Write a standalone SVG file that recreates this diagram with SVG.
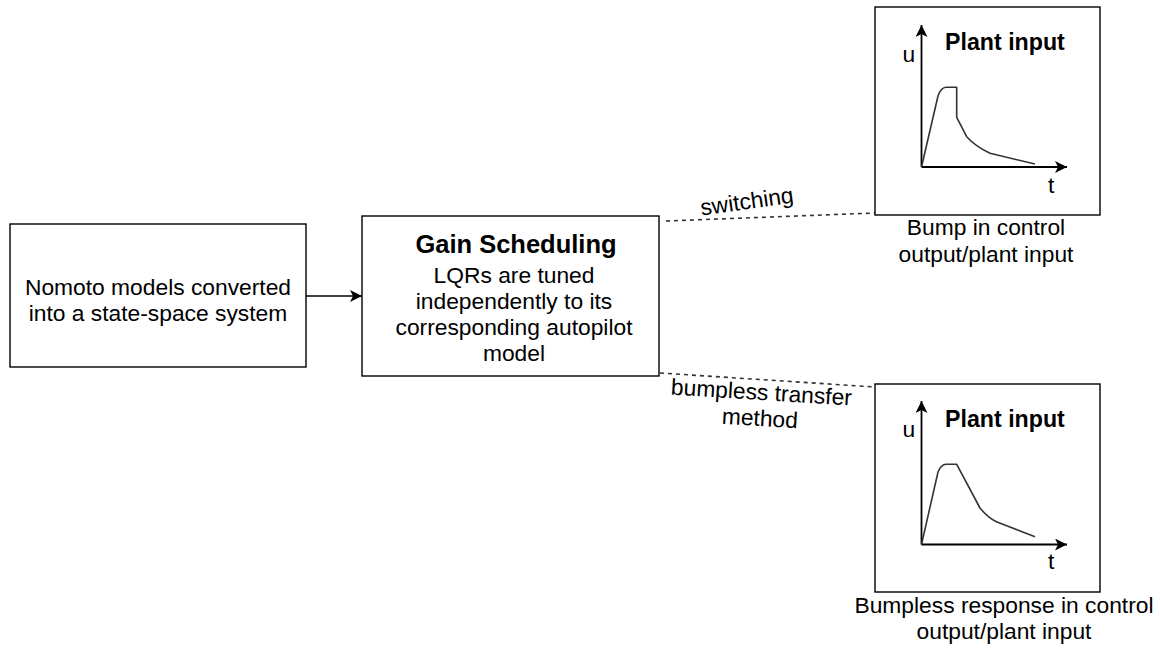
<svg xmlns="http://www.w3.org/2000/svg" width="1160" height="648" viewBox="0 0 1160 648">
<style>
text{font-family:"Liberation Sans",Arial,sans-serif;fill:#000;font-size:22.8px}
.b{font-weight:bold}
.t{font-size:25.5px}
.p{font-size:23.2px}
.box{fill:#fff;stroke:#000;stroke-width:1.4}
.ax{fill:none;stroke:#000;stroke-width:1.8}
.cv{fill:none;stroke:#333;stroke-width:1.6;stroke-linejoin:round}
.dash{fill:none;stroke:#333;stroke-width:1.6;stroke-dasharray:4 4}
.ln{fill:none;stroke:#000;stroke-width:1.4}
</style>
<defs>
<marker id="arr" viewBox="0 0 12 12" refX="12" refY="6" markerWidth="12" markerHeight="12" markerUnits="userSpaceOnUse" orient="auto">
<path d="M0,0 L12,6 L0,12 L3,6 Z" fill="#000"/>
</marker>
</defs>
<rect width="1160" height="648" fill="#fff"/>
<g id="connectors">
<line class="ln" x1="306" y1="296" x2="362" y2="296" marker-end="url(#arr)"/>
<line class="dash" x1="666" y1="221" x2="875" y2="213"/>
<line class="dash" x1="660" y1="373" x2="875" y2="387"/>
<text text-anchor="middle" transform="translate(748,209) rotate(-8)">switching</text>
<text text-anchor="middle" transform="translate(761,400) rotate(3.5)"><tspan x="0" y="0">bumpless transfer</tspan><tspan x="0" y="26">method</tspan></text>
</g>
<g id="nomoto">
<rect class="box" x="10" y="224" width="296" height="143"/>
<text text-anchor="middle" x="158" y="295">Nomoto models converted</text>
<text text-anchor="middle" x="158" y="321">into a state-space system</text>
</g>
<g id="gain">
<rect class="box" x="362" y="216" width="297" height="160"/>
<text class="b t" text-anchor="middle" x="516" y="253">Gain Scheduling</text>
<text text-anchor="middle" x="514" y="283">LQRs are tuned</text>
<text text-anchor="middle" x="514" y="309">independently to its</text>
<text text-anchor="middle" x="514" y="335">corresponding autopilot</text>
<text text-anchor="middle" x="514" y="361">model</text>
</g>
<g id="plot-bump">
<rect class="box" x="875" y="7" width="225" height="208"/>
<line class="ax" x1="921.5" y1="167" x2="921.5" y2="25" marker-end="url(#arr)"/>
<line class="ax" x1="921.5" y1="167" x2="1067" y2="167" marker-end="url(#arr)"/>
<path class="cv" d="M921.5,167 L938,96 Q941,87.5 946,87.3 L956.7,87.3 L956.7,117.3 L966.7,136.7 Q975,146 990,153.3 L1035,164"/>
<text class="b p" x="945" y="50">Plant input</text>
<text x="902.5" y="62">u</text>
<text x="1048" y="193">t</text>
<text text-anchor="middle" x="986" y="235">Bump in control</text>
<text text-anchor="middle" x="986" y="261.5">output/plant input</text>
</g>
<g id="plot-bumpless">
<rect class="box" x="875" y="384" width="225" height="208"/>
<line class="ax" x1="921.5" y1="544.5" x2="921.5" y2="401" marker-end="url(#arr)"/>
<line class="ax" x1="921.5" y1="544.5" x2="1067" y2="544.5" marker-end="url(#arr)"/>
<path class="cv" d="M921.5,544.5 L938,472 Q941,464.5 946,464.3 L956.7,464.3 L980,508 Q988,518 997,522 L1035,536.7"/>
<text class="b p" x="945" y="426.5">Plant input</text>
<text x="902.5" y="437">u</text>
<text x="1048" y="568.5">t</text>
<text text-anchor="middle" x="1004" y="613">Bumpless response in control</text>
<text text-anchor="middle" x="1004" y="639">output/plant input</text>
</g>
</svg>
